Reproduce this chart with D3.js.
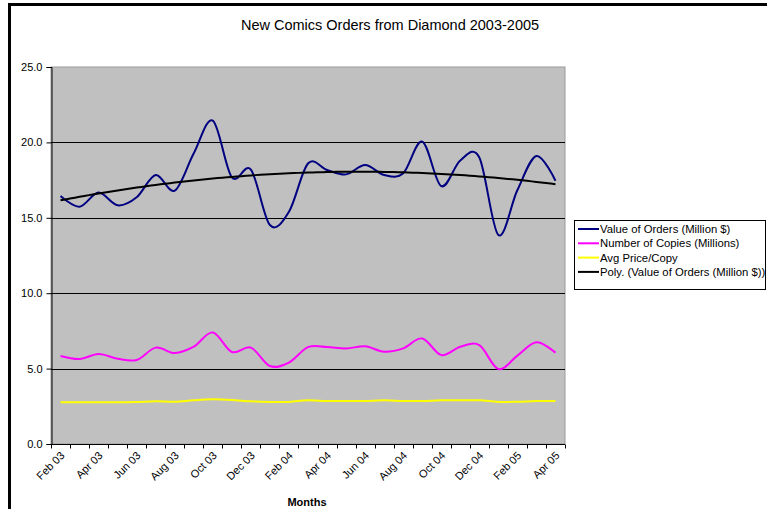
<!DOCTYPE html>
<html><head><meta charset="utf-8">
<script src="https://cdn.jsdelivr.net/npm/d3@7"></script>
<style>
html,body{margin:0;padding:0;background:#fff;}
svg{display:block;font-family:"Liberation Sans",Arial,sans-serif;}
</style></head>
<body><svg id="c" width="767" height="509"></svg>
<script>
const months = ["Feb 03","Mar 03","Apr 03","May 03","Jun 03","Jul 03","Aug 03","Sep 03","Oct 03","Nov 03","Dec 03",
  "Jan 04","Feb 04","Mar 04","Apr 04","May 04","Jun 04","Jul 04","Aug 04","Sep 04","Oct 04","Nov 04","Dec 04",
  "Jan 05","Feb 05","Mar 05","Apr 05"];
const valueOfOrders = [16.45,15.74,16.67,15.83,16.36,17.84,16.8,19.28,21.44,17.68,18.2,14.52,15.4,18.6,18.17,17.88,18.5,17.84,17.95,20.05,17.1,18.8,19.0,13.86,16.84,19.1,17.46];
const numberOfCopies = [5.84,5.64,5.97,5.66,5.57,6.39,6.03,6.45,7.4,6.1,6.39,5.17,5.4,6.42,6.43,6.33,6.48,6.12,6.34,7.0,5.9,6.45,6.55,4.97,5.86,6.74,6.06];
const avgPrice = [2.77,2.77,2.77,2.77,2.78,2.84,2.8,2.9,2.96,2.92,2.83,2.79,2.79,2.9,2.85,2.85,2.85,2.9,2.85,2.85,2.9,2.9,2.9,2.79,2.8,2.85,2.85];
const yTicks = [0,5,10,15,20,25];
const tickLabels = months.filter((m,i)=>i%2===0);
const seriesNames = ["Value of Orders (Million $)","Number of Copies (Millions)","Avg Price/Copy","Poly. (Value of Orders (Million $))"];

// order-2 polynomial least-squares trendline (as Excel computes it)
function polyFit2(ys){
  let S=[0,0,0,0,0], T=[0,0,0];
  ys.forEach((y,i)=>{const x=i+1; for(let k=0;k<5;k++)S[k]+=Math.pow(x,k); for(let k=0;k<3;k++)T[k]+=y*Math.pow(x,k);});
  const A=[[S[0],S[1],S[2],T[0]],[S[1],S[2],S[3],T[1]],[S[2],S[3],S[4],T[2]]];
  for(let c=0;c<3;c++){for(let r=c+1;r<3;r++){const f=A[r][c]/A[c][c];for(let k=c;k<4;k++)A[r][k]-=f*A[c][k];}}
  const b=[0,0,0];for(let r=2;r>=0;r--){let s=A[r][3];for(let k=r+1;k<3;k++)s-=A[r][k]*b[k];b[r]=s/A[r][r];}
  return x=>b[0]+b[1]*x+b[2]*x*x;
}
const trendF = polyFit2(valueOfOrders);

const svg = d3.select("#c");
const L=51, R=565, T=67, B=444;
const x = d3.scaleBand().domain(months).range([L,R]);
const y = d3.scaleLinear().domain([0,25]).range([B,T]);
const cx = m => x(m)+x.bandwidth()/2;

// outer frame (left & top thick)
svg.append("rect").attr("x",8).attr("y",3).attr("width",3).attr("height",506).attr("fill","#000");
svg.append("rect").attr("x",8).attr("y",3).attr("width",759).attr("height",3).attr("fill","#000");

// title
svg.append("text").attr("x",390).attr("y",30).attr("text-anchor","middle").attr("font-size",14.5).attr("fill","#000")
  .text("New Comics Orders from Diamond 2003-2005");

// plot area
svg.append("rect").attr("x",L).attr("y",T).attr("width",R-L).attr("height",B-T).attr("fill","#c0c0c0")
  .attr("stroke","#9a9a9a").attr("stroke-width",1);

// gridlines
svg.append("g").selectAll("line").data(yTicks.filter(v=>v>0&&v<25)).join("line")
  .attr("x1",L).attr("x2",R).attr("y1",d=>Math.round(y(d))+0.5).attr("y2",d=>Math.round(y(d))+0.5)
  .attr("stroke","#000").attr("stroke-width",1);

// y axis
const yAxis = d3.axisLeft(y).tickValues(yTicks).tickFormat(d3.format(".1f")).tickSizeOuter(0).tickSize(5).tickPadding(4);
const gy = svg.append("g").attr("transform",`translate(${L+0.5},0)`).call(yAxis);
gy.selectAll("text").attr("font-size",11).attr("fill","#000").attr("font-family","Liberation Sans,Arial,sans-serif");
gy.selectAll("line,path").attr("stroke","#000");

// x axis ticks at band boundaries
const gx = svg.append("g").attr("transform",`translate(0,${B+0.5})`);
gx.append("line").attr("x1",L).attr("x2",R).attr("stroke","#000");
gx.selectAll("line.t").data(months.concat(["end"])).join("line").attr("class","t")
  .attr("x1",(d,i)=>Math.round(L+i*x.bandwidth())+0.5).attr("x2",(d,i)=>Math.round(L+i*x.bandwidth())+0.5)
  .attr("y1",0).attr("y2",4).attr("stroke","#000");
gx.selectAll("text").data(tickLabels).join("text")
  .attr("transform",d=>`translate(${cx(d)+2},${9}) rotate(-45)`)
  .attr("text-anchor","end").attr("dy","0.35em").attr("font-size",11).attr("fill","#000").text(d=>d);

svg.append("text").attr("x",307).attr("y",506).attr("text-anchor","middle").attr("font-size",11).attr("font-weight","bold").text("Months");

// lines
const line = d3.line().x((d,i)=>cx(months[i])).y(d=>y(d)).curve(d3.curveCardinal.tension(0));
svg.append("path").datum(avgPrice).attr("d",line).attr("fill","none").attr("stroke","#ffff00").attr("stroke-width",2);
svg.append("path").datum(numberOfCopies).attr("d",line).attr("fill","none").attr("stroke","#ff00ff").attr("stroke-width",2);
svg.append("path").datum(valueOfOrders).attr("d",line).attr("fill","none").attr("stroke","#000080").attr("stroke-width",2);
const trendPts = d3.range(0,26.01,0.25).map(t=>[L+x.bandwidth()*(t+0.5), y(trendF(t+1))]);
svg.append("path").datum(trendPts).attr("d",d3.line()).attr("fill","none").attr("stroke","#000").attr("stroke-width",2);

// legend
const lg = svg.append("g");
lg.append("rect").attr("x",574.5).attr("y",220.5).attr("width",191).attr("height",69).attr("fill","#fff").attr("stroke","#000");
const colors=["#000080","#ff00ff","#ffff00","#000"];
seriesNames.forEach((n,i)=>{
  const yy=229+i*14.3;
  lg.append("line").attr("x1",578).attr("x2",599).attr("y1",yy).attr("y2",yy).attr("stroke",colors[i]).attr("stroke-width",2);
  lg.append("text").attr("x",600).attr("y",yy).attr("dy","0.35em").attr("font-size",11.3).text(n);
});
</script></body></html>
